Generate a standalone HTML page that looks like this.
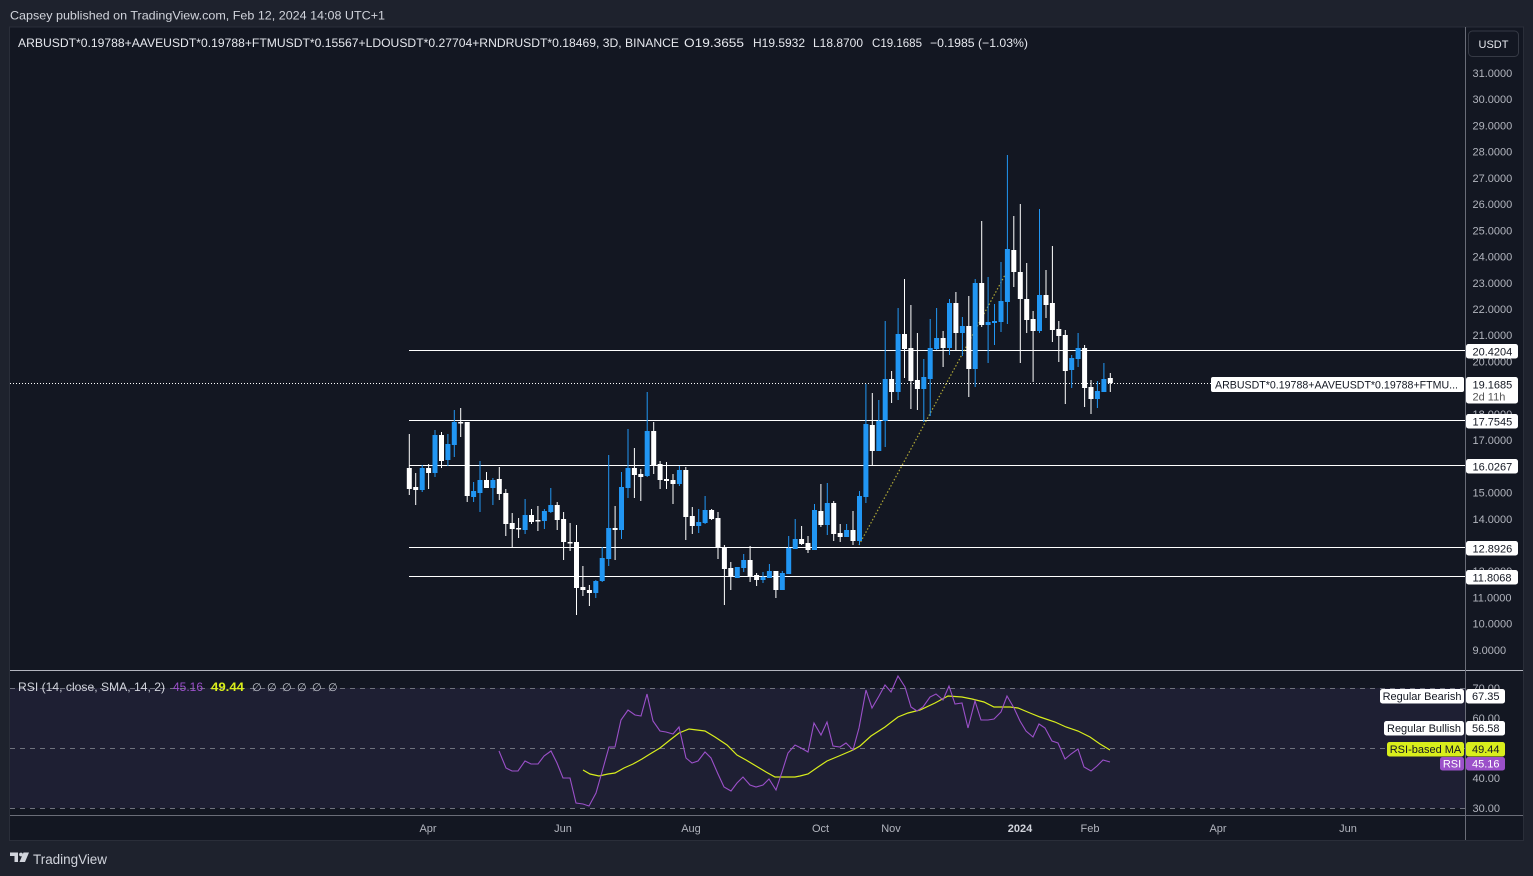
<!DOCTYPE html>
<html><head><meta charset="utf-8"><style>
html,body{margin:0;padding:0;background:#1e222d;}
svg{display:block;font-family:"Liberation Sans","DejaVu Sans",sans-serif;}
</style></head><body>
<svg width="1533" height="876" viewBox="0 0 1533 876" xmlns="http://www.w3.org/2000/svg">
<rect x="0" y="0" width="1533" height="876" fill="#1e222d"/>
<text x="10" y="19.5" font-size="12" fill="#d1d4dc" textLength="375" lengthAdjust="spacingAndGlyphs">Capsey published on TradingView.com, Feb 12, 2024 14:08 UTC+1</text>
<!-- frame -->
<rect x="9.5" y="27" width="1514" height="813.5" fill="#131722" stroke="#2a2e39" stroke-width="1"/>
<!-- RSI band -->
<rect x="10" y="688" width="1455" height="120" fill="#1e1f33"/>
<g stroke="#6f727d" stroke-width="1" stroke-dasharray="5,5">
<line x1="10" y1="688.5" x2="1465" y2="688.5"/>
<line x1="10" y1="748.5" x2="1465" y2="748.5"/>
<line x1="10" y1="808.5" x2="1465" y2="808.5"/>
</g>
<!-- separators -->
<line x1="10" y1="670.5" x2="1523" y2="670.5" stroke="#b2b5be" stroke-width="1"/>
<line x1="10" y1="815.5" x2="1523" y2="815.5" stroke="#6a6d78" stroke-width="1"/>
<line x1="1465.5" y1="27" x2="1465.5" y2="840" stroke="#6a6d78" stroke-width="1"/>

<!-- legend -->
<text x="18" y="47" font-size="12" fill="#e6e8ee" textLength="661" lengthAdjust="spacingAndGlyphs">ARBUSDT*0.19788+AAVEUSDT*0.19788+FTMUSDT*0.15567+LDOUSDT*0.27704+RNDRUSDT*0.18469, 3D, BINANCE</text>
<text x="684" y="47" font-size="12" fill="#e6e8ee" textLength="60" lengthAdjust="spacingAndGlyphs">O19.3655</text>
<text x="753" y="47" font-size="12" fill="#e6e8ee" textLength="52" lengthAdjust="spacingAndGlyphs">H19.5932</text>
<text x="813" y="47" font-size="12" fill="#e6e8ee" textLength="50" lengthAdjust="spacingAndGlyphs">L18.8700</text>
<text x="872" y="47" font-size="12" fill="#e6e8ee" textLength="50" lengthAdjust="spacingAndGlyphs">C19.1685</text>
<text x="930" y="47" font-size="12" fill="#e6e8ee" textLength="98" lengthAdjust="spacingAndGlyphs">−0.1985 (−1.03%)</text>

<!-- USDT button -->
<rect x="1468.5" y="31" width="50" height="25.5" rx="4" fill="#131722" stroke="#363a45" stroke-width="1"/>
<text x="1493.5" y="48" font-size="11" fill="#e6e8ee" text-anchor="middle">USDT</text>

<!-- price axis labels -->
<g font-size="11" fill="#b2b5be">
<text x="1472.5" y="77">31.0000</text>
<text x="1472.5" y="103">30.0000</text>
<text x="1472.5" y="129.5">29.0000</text>
<text x="1472.5" y="155.5">28.0000</text>
<text x="1472.5" y="182">27.0000</text>
<text x="1472.5" y="208">26.0000</text>
<text x="1472.5" y="234.5">25.0000</text>
<text x="1472.5" y="260.5">24.0000</text>
<text x="1472.5" y="287">23.0000</text>
<text x="1472.5" y="313">22.0000</text>
<text x="1472.5" y="339">21.0000</text>
<text x="1472.5" y="365.5">20.0000</text>
<text x="1472.5" y="418">18.0000</text>
<text x="1472.5" y="444">17.0000</text>
<text x="1472.5" y="496.5">15.0000</text>
<text x="1472.5" y="523">14.0000</text>
<text x="1472.5" y="549">13.0000</text>
<text x="1472.5" y="575">12.0000</text>
<text x="1472.5" y="601.5">11.0000</text>
<text x="1472.5" y="627.5">10.0000</text>
<text x="1472.5" y="654">9.0000</text>
</g>

<!-- horizontal levels -->
<g stroke="#ffffff" stroke-width="1">
<line x1="409" y1="350.5" x2="1465" y2="350.5"/>
<line x1="409" y1="420.5" x2="1465" y2="420.5"/>
<line x1="409" y1="465.5" x2="1465" y2="465.5"/>
<line x1="409" y1="547.5" x2="1465" y2="547.5"/>
<line x1="409" y1="576.5" x2="1465" y2="576.5"/>
</g>
<!-- current price dotted line -->
<line x1="10" y1="383.5" x2="1211" y2="383.5" stroke="#ffffff" stroke-width="1" stroke-dasharray="1,2"/>
<!-- trend line -->
<line x1="859" y1="545" x2="1005" y2="275" stroke="#d6cc3a" stroke-width="1.2" stroke-dasharray="1.5,2" opacity="0.8"/>

<!-- candles: blue -->
<path fill="none" stroke="#2196f3" stroke-width="1" d="M422.2 465V492M435 430V477M447.9 434V466M454.3 410V457M473.6 482V502M480 461V512M492.9 478V505M525.1 499V534M544.4 509V529M550.8 488V513M595.8 580V598M602.2 547V582M608.7 455V566M621.5 472V539M628 429V498M647.2 392V477M679.4 466V486M698.7 509V533M705.1 496V524M737.3 567V578M743.7 554V572M763 572V583M769.4 564V578M782.3 571V590M788.7 536V574M795.2 519V549M814.5 504V550M827.3 483V535M846.6 524V537M859.5 491V545M865.9 384V503M878.8 400V451M885.2 321V447M898.1 308V400M923.8 359V422M930.2 319V416M936.6 308V350M949.5 299V355M962.4 317V356M975.2 279V387M988.1 277V363M994.5 304V345M1001 262V332M1007.4 155V324M1039.5 209V333M1071.7 355V388M1078.1 333V367M1097.4 381V408M1103.9 363V392"/>
<g fill="#2196f3">
<rect x="419.7" y="468" width="5" height="22"/>
<rect x="432.5" y="435" width="5" height="38"/>
<rect x="445.4" y="444" width="5" height="16"/>
<rect x="451.8" y="422" width="5" height="23"/>
<rect x="471.1" y="491" width="5" height="6"/>
<rect x="477.5" y="480" width="5" height="13"/>
<rect x="490.4" y="480" width="5" height="8"/>
<rect x="522.6" y="515" width="5" height="15"/>
<rect x="541.9" y="511" width="5" height="10"/>
<rect x="548.3" y="505" width="5" height="7"/>
<rect x="593.3" y="581" width="5" height="12"/>
<rect x="599.7" y="558" width="5" height="23"/>
<rect x="606.2" y="528" width="5" height="31"/>
<rect x="619" y="487" width="5" height="43"/>
<rect x="625.5" y="468" width="5" height="20"/>
<rect x="644.7" y="431" width="5" height="45"/>
<rect x="676.9" y="470" width="5" height="14"/>
<rect x="696.2" y="522" width="5" height="4"/>
<rect x="702.6" y="510" width="5" height="13"/>
<rect x="734.8" y="567" width="5" height="11"/>
<rect x="741.2" y="560" width="5" height="8"/>
<rect x="760.5" y="577" width="5" height="3"/>
<rect x="766.9" y="571" width="5" height="7"/>
<rect x="779.8" y="573" width="5" height="17"/>
<rect x="786.2" y="548" width="5" height="26"/>
<rect x="792.7" y="539" width="5" height="10"/>
<rect x="812" y="510" width="5" height="40"/>
<rect x="824.8" y="503" width="5" height="22"/>
<rect x="844.1" y="530" width="5" height="7"/>
<rect x="857" y="496" width="5" height="45"/>
<rect x="863.4" y="424" width="5" height="73"/>
<rect x="876.3" y="421" width="5" height="30"/>
<rect x="882.7" y="379" width="5" height="42"/>
<rect x="895.6" y="334" width="5" height="58"/>
<rect x="921.3" y="377" width="5" height="12"/>
<rect x="927.7" y="348" width="5" height="31"/>
<rect x="934.1" y="338" width="5" height="11"/>
<rect x="947" y="303" width="5" height="45"/>
<rect x="959.9" y="326" width="5" height="7"/>
<rect x="972.7" y="283" width="5" height="86"/>
<rect x="985.6" y="322" width="5" height="3"/>
<rect x="992" y="321" width="5" height="2"/>
<rect x="998.5" y="301" width="5" height="21"/>
<rect x="1004.9" y="249" width="5" height="53"/>
<rect x="1037" y="295" width="5" height="36"/>
<rect x="1069.2" y="358" width="5" height="12"/>
<rect x="1075.6" y="348" width="5" height="11"/>
<rect x="1094.9" y="391" width="5" height="8"/>
<rect x="1101.4" y="379" width="5" height="13"/>
</g>
<!-- candles: white -->
<path fill="none" stroke="#ffffff" stroke-width="1" d="M409.3 434V495M415.7 473V505M428.6 464V489M441.5 432V468M460.7 408V437M467.2 422V502M486.5 472V488M499.3 467V500M505.8 489V536M512.2 513V548M518.6 518V538M531.5 509V524M537.9 506V531M557.2 502V530M563.6 512V560M570.1 523V551M576.5 525V615M582.9 566V596M589.4 585V606M615.1 506V560M634.4 448V498M640.8 469V501M653.7 422V474M660.1 461V489M666.5 462V489M673 474V504M685.8 467V540M692.3 507V534M711.6 509V520M718 512V559M724.4 545V605M730.8 562V590M750.1 546V582M756.6 573V586M775.9 571V598M801.6 526V545M808 536V553M820.9 484V527M833.7 501V541M840.2 524V542M853 511V545M872.3 393V465M891.6 371V403M904.5 279V378M910.9 305V409M917.4 333V410M943.1 331V367M955.9 292V351M968.8 296V397M981.7 221V327M1013.8 216V287M1020.3 204V363M1026.7 263V333M1033.1 311V382M1046 270V318M1052.4 246V342M1058.8 321V362M1065.3 330V404M1084.6 345V407M1091 380V414M1110.3 373V392"/>
<g fill="#ffffff">
<rect x="406.8" y="468" width="5" height="21"/>
<rect x="413.2" y="487" width="5" height="3"/>
<rect x="426.1" y="468" width="5" height="5"/>
<rect x="439" y="435" width="5" height="26"/>
<rect x="458.2" y="422" width="5" height="1.5"/>
<rect x="464.7" y="422" width="5" height="74"/>
<rect x="484" y="480" width="5" height="8"/>
<rect x="496.8" y="479" width="5" height="15"/>
<rect x="503.3" y="493" width="5" height="31"/>
<rect x="509.7" y="523" width="5" height="6"/>
<rect x="516.1" y="528" width="5" height="1.5"/>
<rect x="529" y="515" width="5" height="7"/>
<rect x="535.4" y="520" width="5" height="1.5"/>
<rect x="554.7" y="505" width="5" height="15"/>
<rect x="561.1" y="519" width="5" height="23"/>
<rect x="567.6" y="542" width="5" height="1.5"/>
<rect x="574" y="542" width="5" height="46"/>
<rect x="580.4" y="587" width="5" height="3"/>
<rect x="586.9" y="590" width="5" height="3"/>
<rect x="612.6" y="528" width="5" height="2"/>
<rect x="631.9" y="468" width="5" height="7"/>
<rect x="638.3" y="474" width="5" height="3"/>
<rect x="651.2" y="431" width="5" height="34"/>
<rect x="657.6" y="464" width="5" height="16"/>
<rect x="664" y="479" width="5" height="2"/>
<rect x="670.5" y="480" width="5" height="4"/>
<rect x="683.3" y="470" width="5" height="47"/>
<rect x="689.8" y="516" width="5" height="10"/>
<rect x="709.1" y="510" width="5" height="9"/>
<rect x="715.5" y="518" width="5" height="30"/>
<rect x="721.9" y="547" width="5" height="22"/>
<rect x="728.3" y="568" width="5" height="9"/>
<rect x="747.6" y="560" width="5" height="16"/>
<rect x="754.1" y="575" width="5" height="5"/>
<rect x="773.4" y="571" width="5" height="19"/>
<rect x="799.1" y="539" width="5" height="5"/>
<rect x="805.5" y="543" width="5" height="7"/>
<rect x="818.4" y="511" width="5" height="14"/>
<rect x="831.2" y="503" width="5" height="31"/>
<rect x="837.7" y="533" width="5" height="4"/>
<rect x="850.5" y="530" width="5" height="11"/>
<rect x="869.8" y="425" width="5" height="26"/>
<rect x="889.1" y="379" width="5" height="13"/>
<rect x="902" y="334" width="5" height="15"/>
<rect x="908.4" y="348" width="5" height="33"/>
<rect x="914.9" y="380" width="5" height="9"/>
<rect x="940.6" y="338" width="5" height="10"/>
<rect x="953.4" y="303" width="5" height="30"/>
<rect x="966.3" y="326" width="5" height="43"/>
<rect x="979.2" y="283" width="5" height="42"/>
<rect x="1011.3" y="250" width="5" height="22"/>
<rect x="1017.8" y="272" width="5" height="27"/>
<rect x="1024.2" y="299" width="5" height="21"/>
<rect x="1030.6" y="319" width="5" height="12"/>
<rect x="1043.5" y="295" width="5" height="10"/>
<rect x="1049.9" y="303" width="5" height="27"/>
<rect x="1056.3" y="329" width="5" height="7"/>
<rect x="1062.8" y="335" width="5" height="36"/>
<rect x="1082.1" y="348" width="5" height="40"/>
<rect x="1088.5" y="387" width="5" height="12"/>
<rect x="1107.8" y="378" width="5" height="5"/>
</g>

<!-- price label boxes -->
<g font-size="11" fill="#131722">
<rect x="1211" y="377" width="253" height="15" rx="2" fill="#ffffff"/>
<text x="1215" y="388.5" textLength="243" lengthAdjust="spacingAndGlyphs">ARBUSDT*0.19788+AAVEUSDT*0.19788+FTMU...</text>
<rect x="1466" y="344" width="52" height="14.5" rx="2.5" fill="#ffffff"/>
<text x="1472.5" y="355.5">20.4204</text>
<rect x="1466" y="377" width="52" height="26.5" rx="2.5" fill="#ffffff"/>
<text x="1472.5" y="388.5">19.1685</text>
<text x="1472.5" y="400.5" fill="#555">2d 11h</text>
<rect x="1466" y="414" width="52" height="14.5" rx="2.5" fill="#ffffff"/>
<text x="1472.5" y="425.5">17.7545</text>
<rect x="1466" y="459" width="52" height="14.5" rx="2.5" fill="#ffffff"/>
<text x="1472.5" y="470.5">16.0267</text>
<rect x="1466" y="541" width="52" height="14.5" rx="2.5" fill="#ffffff"/>
<text x="1472.5" y="552.5">12.8926</text>
<rect x="1466" y="570" width="52" height="14.5" rx="2.5" fill="#ffffff"/>
<text x="1472.5" y="581.5">11.8068</text>
</g>

<!-- RSI lines -->
<polyline fill="none" stroke="#d9ee1c" stroke-width="1.2" points="583,770 590,774 599,776 608,774 615,773 624,768 633,764 642,759 650,754 660,748 670,740 679,733 689,729 705,731 715,737 727,745 737,755 746,760 756,766 766,772 775,777 785,777 795,777 800,776 808,774 818,767 827,761 839,756 853,750 860,746 871,736 885,727 898,717 908,713 920,710 935,703 948,696 962,697 972,699 984,702 994,707 1010,707 1018,708 1030,713 1040,717 1055,722 1066,727 1078,731 1090,737 1100,744 1110,750"/>
<polyline fill="none" stroke="#9b50c9" stroke-width="1.1" points="499,751 506,768 512,771 518,771 525,761 531,764 538,764 544,756 551,751 557,763 563,778 570,778 576,803 583,804 589,806 596,793 602,772 609,747 615,747 621,720 628,710 635,715 641,716 647,694 653,721 660,731 666,732 673,734 679,727 686,758 692,763 698,761 705,752 711,758 718,774 724,787 731,791 737,783 743,777 750,785 756,787 763,785 769,779 776,790 782,772 788,753 795,745 801,748 808,752 814,723 821,735 827,722 833,746 840,747 846,743 853,750 859,728 866,690 872,708 879,696 885,685 891,692 898,676 905,687 911,707 917,711 923,707 930,697 936,694 943,700 949,686 955,704 962,703 968,728 975,701 981,720 988,720 994,719 1001,712 1007,696 1014,708 1020,721 1026,731 1033,737 1039,724 1045,728 1052,741 1058,743 1065,759 1071,754 1078,749 1084,767 1091,771 1097,766 1103,760 1110,762"/>

<!-- RSI legend -->
<text x="18" y="691" font-size="12" fill="#d1d4dc" textLength="147" lengthAdjust="spacingAndGlyphs">RSI (14, close, SMA, 14, 2)</text>
<text x="173" y="691" font-size="12" fill="#9b50c9" textLength="30" lengthAdjust="spacingAndGlyphs">45.16</text>
<text x="211" y="691" font-size="12" font-weight="bold" fill="#d9ee1c" textLength="33" lengthAdjust="spacingAndGlyphs">49.44</text>
<text x="252" y="691" font-size="11" fill="#c5c8d0" font-family="DejaVu Sans, sans-serif">∅</text>
<text x="267" y="691" font-size="11" fill="#c5c8d0" font-family="DejaVu Sans, sans-serif">∅</text>
<text x="282" y="691" font-size="11" fill="#c5c8d0" font-family="DejaVu Sans, sans-serif">∅</text>
<text x="297" y="691" font-size="11" fill="#c5c8d0" font-family="DejaVu Sans, sans-serif">∅</text>
<text x="312" y="691" font-size="11" fill="#c5c8d0" font-family="DejaVu Sans, sans-serif">∅</text>
<text x="328" y="691" font-size="11" fill="#c5c8d0" font-family="DejaVu Sans, sans-serif">∅</text>

<!-- RSI axis labels -->
<g font-size="11" fill="#b2b5be">
<text x="1472.5" y="692">70.00</text>
<text x="1472.5" y="722">60.00</text>
<text x="1472.5" y="782">40.00</text>
<text x="1472.5" y="812">30.00</text>
</g>
<g font-size="11">
<rect x="1380" y="689" width="84" height="14.5" rx="2.5" fill="#ffffff"/>
<text x="1422" y="700" text-anchor="middle" fill="#131722">Regular Bearish</text>
<rect x="1466" y="689" width="39" height="14.5" rx="2.5" fill="#ffffff"/>
<text x="1472" y="700" fill="#131722">67.35</text>
<rect x="1384" y="721" width="80" height="14.5" rx="2.5" fill="#ffffff"/>
<text x="1424" y="732" text-anchor="middle" fill="#131722">Regular Bullish</text>
<rect x="1466" y="721" width="39" height="14.5" rx="2.5" fill="#ffffff"/>
<text x="1472" y="732" fill="#131722">56.58</text>
<rect x="1387" y="742" width="77" height="14.5" rx="2.5" fill="#d9ee1c"/>
<text x="1425.5" y="753" text-anchor="middle" fill="#131722">RSI-based MA</text>
<rect x="1466" y="742" width="39" height="14.5" rx="2.5" fill="#d9ee1c"/>
<text x="1472" y="753" fill="#131722">49.44</text>
<rect x="1440" y="757" width="24" height="13.5" rx="2.5" fill="#9b50c9"/>
<text x="1452" y="767.5" text-anchor="middle" fill="#ffffff">RSI</text>
<rect x="1466" y="757" width="39" height="13.5" rx="2.5" fill="#9b50c9"/>
<text x="1472" y="767.5" fill="#ffffff">45.16</text>
</g>

<!-- time axis -->
<g font-size="11" fill="#b2b5be" text-anchor="middle">
<text x="428" y="832">Apr</text>
<text x="563" y="832">Jun</text>
<text x="691" y="832">Aug</text>
<text x="820.5" y="832">Oct</text>
<text x="891" y="832">Nov</text>
<text x="1020" y="832" font-weight="bold" fill="#d1d4dc">2024</text>
<text x="1090" y="832">Feb</text>
<text x="1218" y="832">Apr</text>
<text x="1348" y="832">Jun</text>
</g>

<!-- footer logo -->
<g fill="#d1d4dc">
<rect x="10" y="852.5" width="8" height="3.5"/>
<rect x="14.5" y="852.5" width="3.5" height="9.5"/>
<circle cx="21" cy="854.5" r="1.9"/>
<polygon points="23.5,852.5 29,852.5 25,862 19.5,862"/>
</g>
<text x="33" y="864" font-size="13.5" fill="#d1d4dc" textLength="74" lengthAdjust="spacingAndGlyphs">TradingView</text>
</svg>
</body></html>
